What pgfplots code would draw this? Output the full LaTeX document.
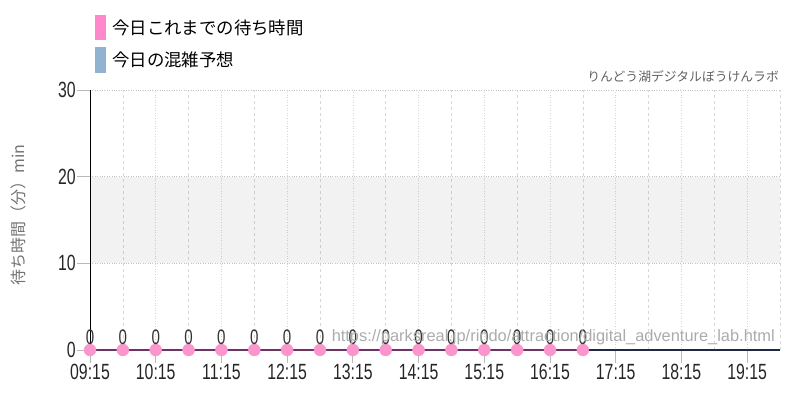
\documentclass[border=0pt]{standalone}
\usepackage{pgfplots}
\pgfplotsset{compat=1.18}
\usepackage{fontspec}
\setmainfont{Liberation Sans}
\newfontfamily\cjk{Noto Sans CJK JP}
\newfontfamily\cond[FakeStretch=0.72]{Liberation Sans}
\definecolor{pinkc}{RGB}{255,136,204}
\definecolor{dotc}{RGB}{250,150,205}
\definecolor{bluec}{RGB}{143,179,208}
\definecolor{linec}{RGB}{110,50,100}
\definecolor{axisc}{RGB}{30,42,66}
\definecolor{gridc}{RGB}{195,195,195}
\definecolor{vgridc}{RGB}{215,215,215}
\definecolor{tickc}{RGB}{185,185,185}
\begin{document}
\begin{tikzpicture}
\useasboundingbox (0pt,0pt) rectangle (800pt,400pt);
\begin{axis}[
  at={(90pt,50pt)}, anchor=south west,
  scale only axis, width=690pt, height=260pt,
  xmin=9.25, xmax=19.75, ymin=0, ymax=30,
  axis x line=bottom, axis y line=left,
  axis line style={-},
  x axis line style={draw=axisc, line width=1.3pt},
  y axis line style={draw=black, line width=0.8pt},
  xtick={9.25,10.25,11.25,12.25,13.25,14.25,15.25,16.25,17.25,18.25,19.25},
  xticklabels={09:15,10:15,11:15,12:15,13:15,14:15,15:15,16:15,17:15,18:15,19:15},
  minor xtick={9.75,10.75,11.75,12.75,13.75,14.75,15.75,16.75,17.75,18.75,19.75},
  ytick={0,10,20,30},
  tick align=outside,
  major tick length=13pt,
  minor tick length=0pt,
  tick style={draw=tickc, line width=0.8pt},
  xmajorgrids, xminorgrids, ymajorgrids,
  major grid style={draw=gridc, dotted, line width=0.6pt},
  major x grid style={draw=vgridc, dotted, line width=0.7pt},
  minor x grid style={draw=vgridc, dashed, line width=0.6pt},
  /pgf/number format/assume math mode=true,
  tick label style={font=\cond\fontsize{22}{22}\selectfont, text=black!85},
  yticklabel style={inner sep=1pt},
  xticklabel style={inner sep=1pt},
  clip=false,
]
\addplot[draw=none, fill=black, fill opacity=0.05] coordinates {(9.25,10) (19.75,10) (19.75,20) (9.25,20)};
\addplot[dotc, only marks, mark=*, mark size=6pt, mark options={fill=dotc, draw=dotc},
  nodes near coords, point meta=y,
  every node near coord/.append style={font=\cond\fontsize{21}{21}\selectfont, text=black!80, anchor=south, inner sep=0pt, yshift=5pt}]
  table {
x y
9.25 0
9.75 0
10.25 0
10.75 0
11.25 0
11.75 0
12.25 0
12.75 0
13.25 0
13.75 0
14.25 0
14.75 0
15.25 0
15.75 0
16.25 0
16.75 0
};
\addplot[linec, line width=1.6pt, no marks] table {
x y
9.25 0
9.75 0
10.25 0
10.75 0
11.25 0
11.75 0
12.25 0
12.75 0
13.25 0
13.75 0
14.25 0
14.75 0
15.25 0
15.75 0
16.25 0
16.75 0
};
\end{axis}
% watermark
\node[anchor=south east, inner sep=0pt, text=black!33, font=\fontsize{16.4}{16.4}\selectfont] at (775pt,55pt) {https://parksreal.jp/rindo/attraction/digital\_adventure\_lab.html};
% top-right label
\node[anchor=east, inner sep=0pt, text=black!62, font=\cjk\fontsize{12.8}{12.8}\selectfont] at (779pt,323pt) {りんどう湖デジタルぼうけんラボ};
% y label
\node[rotate=90, inner sep=0pt, text=black!55, font=\cjk\fontsize{16}{16}\selectfont] at (18pt,185pt) {待ち時間（分）min};
% legend
\fill[pinkc] (95pt,360pt) rectangle (106pt,385pt);
\node[anchor=west, inner sep=0pt, font=\cjk\fontsize{17.4}{17.4}\selectfont] at (112pt,372pt) {今日これまでの待ち時間};
\fill[bluec] (95pt,327pt) rectangle (106pt,353pt);
\node[anchor=west, inner sep=0pt, font=\cjk\fontsize{17.4}{17.4}\selectfont] at (112pt,340pt) {今日の混雑予想};
\end{tikzpicture}
\end{document}
